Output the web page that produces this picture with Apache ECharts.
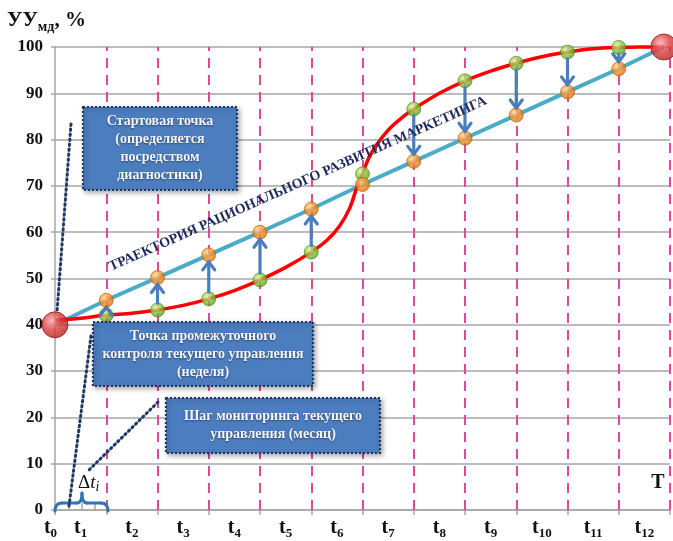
<!DOCTYPE html>
<html>
<head>
<meta charset="utf-8">
<script src="https://cdn.jsdelivr.net/npm/echarts@6.0.0/dist/echarts.min.js"></script>
<style>
  html, body { margin: 0; padding: 0; background: #ffffff; }
  #chart { width: 673px; height: 541px; }
</style>
</head>
<body>
<div id="chart"></div>
<script>
// ---- data ----------------------------------------------------------------
// period subscripts shown under the time axis (t0 ... t12)
const periodSubs = ['0', '1', '2', '3', '4', '5', '6', '7', '8', '9', '10', '11', '12'];

// monthly control points (index of period boundary)
const checkK = [1, 2, 3, 4, 5, 6, 7, 8, 9, 10, 11];
// rational trajectory values at control points (orange)
const planV = [45.3, 50.2, 55.1, 60.0, 65.0, 70.3, 75.3, 80.3, 85.3, 90.3, 95.3];
// actual development values at control points (green)
const factV = [42.1, 43.2, 45.6, 49.7, 55.7, 72.6, 86.6, 92.7, 96.5, 98.9, 99.9];

// start and end states
const startK = 0, startV = 40;
const endK = 11.88, endV = 100;

// S-shaped actual development curve
const curveK = [0, 0.5, 1, 1.5, 2, 2.5, 3, 3.5, 4, 4.5, 5, 5.3, 5.55, 5.75, 5.9, 6, 6.1, 6.2, 6.35, 6.55, 6.8, 7, 7.5, 8, 8.5, 9, 9.5, 10, 10.5, 11, 11.4, 11.88];
const curveV = [41, 41.4, 42.1, 42.5, 43.2, 44.2, 45.6, 47.4, 49.7, 52.4, 55.7, 58.2, 61.3, 65.2, 70.0, 72.6, 75.5, 77.6, 80.0, 82.6, 85.0, 86.6, 90.0, 92.7, 94.8, 96.5, 97.9, 98.9, 99.6, 99.9, 100, 100];

// correction arrows (period index where an arrow is drawn)
const arrowK = [1, 2, 3, 4, 5, 7, 8, 9, 10, 11];

// ---- styling helpers -----------------------------------------------------
const SERIF = '"Liberation Serif", "Times New Roman", serif';
const GRID_GRAY = '#a6a6a6';
const PINK = '#e0489e';
const NAVY = '#1f3864';

function ballGradient(light, mid, dark) {
  return {
    type: 'radial', x: 0.38, y: 0.35, r: 0.75,
    colorStops: [
      { offset: 0, color: light },
      { offset: 0.45, color: mid },
      { offset: 1, color: dark }
    ]
  };
}

const planLine = [[startK, startV]].concat(checkK.map((k, i) => [k, planV[i]]), [[endK, endV]]);
const factCurve = curveK.map((k, i) => [k, curveV[i]]);
const planPoints = checkK.map((k, i) => [k, planV[i]]);
const factPoints = checkK.map((k, i) => [k, factV[i]]);
const arrowData = arrowK.map(k => {
  const i = checkK.indexOf(k);
  return [k, factV[i], planV[i]];
});

function infoBox(x, y, w, h, text) {
  return {
    type: 'group',
    children: [
      {
        type: 'rect',
        z: 100,
        shape: { x: x, y: y, width: w, height: h },
        style: {
          fill: '#4c7dbf',
          stroke: NAVY,
          lineWidth: 2.2,
          lineDash: [2, 2],
          shadowBlur: 5,
          shadowOffsetX: 2,
          shadowOffsetY: 2,
          shadowColor: 'rgba(0,0,0,0.35)'
        }
      },
      {
        type: 'text',
        z: 101,
        x: x + w / 2,
        y: y + h / 2,
        style: {
          text: text,
          align: 'center',
          verticalAlign: 'middle',
          fill: '#f4f4f4',
          font: 'bold 14px ' + SERIF,
          lineHeight: 18,
          textShadowColor: 'rgba(0,0,0,0.45)',
          textShadowBlur: 2,
          textShadowOffsetY: 1
        }
      }
    ]
  };
}

function dotted(x1, y1, x2, y2) {
  return {
    type: 'line',
    z: 90,
    shape: { x1: x1, y1: y1, x2: x2, y2: y2 },
    style: { stroke: NAVY, lineWidth: 3, lineDash: [1.5, 3.5], lineCap: 'round' }
  };
}

// curly brace over the first period (weekly steps)
function brace() {
  const st = { stroke: '#2e75b6', lineWidth: 3, fill: null, lineCap: 'round' };
  const seg = (x1, y1, x2, y2, cx, cy) => ({
    type: 'bezierCurve', z: 50,
    shape: { x1: x1, y1: y1, x2: x2, y2: y2, cpx1: cx, cpy1: cy },
    style: st
  });
  return {
    type: 'group',
    children: [
      seg(55, 511, 62, 503, 55, 503),
      { type: 'line', z: 50, shape: { x1: 62, y1: 503, x2: 77, y2: 503 }, style: st },
      seg(77, 503, 82, 493, 82, 503),
      seg(82, 493, 87, 503, 82, 503),
      { type: 'line', z: 50, shape: { x1: 87, y1: 503, x2: 101, y2: 503 }, style: st },
      seg(101, 503, 108, 511, 108, 503)
    ]
  };
}

// ---- chart ---------------------------------------------------------------
const chart = echarts.init(document.getElementById('chart'), null, { renderer: 'canvas' });

const option = {
  animation: false,
  backgroundColor: '#ffffff',
  grid: { left: 55, right: 3, top: 47, bottom: 31, containLabel: false },
  xAxis: [
    {
      type: 'value', min: 0, max: 12, interval: 1,
      axisLine: { show: true, lineStyle: { color: GRID_GRAY, width: 1.5 } },
      axisTick: { show: true, length: 5, lineStyle: { color: GRID_GRAY, width: 1.5 } },
      axisLabel: { show: false },
      splitLine: { show: false }
    },
    {
      type: 'value', min: 0, max: 12, interval: 0.5, position: 'bottom',
      axisLine: { show: false }, axisTick: { show: false }, splitLine: { show: false },
      axisLabel: {
        margin: 6,
        formatter: function (v) {
          if (v === 0) return '{t|t}{s0|' + periodSubs[0] + '}';
          const f = v - Math.floor(v);
          if (Math.abs(f - 0.5) < 1e-6) {
            return '{t|t}{s|' + periodSubs[Math.round(v + 0.5)] + '}';
          }
          return '';
        },
        rich: {
          t: { fontFamily: SERIF, fontWeight: 'bold', fontSize: 20, color: '#111', lineHeight: 24 },
          s: { fontFamily: SERIF, fontWeight: 'bold', fontSize: 13, color: '#111', lineHeight: 13, verticalAlign: 'bottom' },
          s0: { fontFamily: SERIF, fontWeight: 'bold', fontSize: 13, color: '#111', lineHeight: 13, verticalAlign: 'bottom', padding: [0, 9, 0, 0] }
        }
      }
    }
  ],
  yAxis: {
    type: 'value', min: 0, max: 100, interval: 10,
    axisLine: { show: true, lineStyle: { color: GRID_GRAY, width: 1.5 } },
    axisTick: { show: true, length: 4, lineStyle: { color: GRID_GRAY, width: 1.5 } },
    axisLabel: { fontFamily: SERIF, fontWeight: 'bold', fontSize: 17, color: '#111', margin: 12 },
    splitLine: { show: true, lineStyle: { color: GRID_GRAY, width: 1.5 } }
  },
  series: [
    {
      // rational marketing development trajectory
      type: 'line',
      data: planLine,
      symbol: 'none',
      z: 2,
      clip: false,
      lineStyle: { color: '#4bacc6', width: 4 },
      markLine: {
        silent: true,
        symbol: 'none',
        label: { show: false },
        lineStyle: { color: PINK, width: 2, type: [10, 7] },
        data: checkK.concat([12]).map(k => ({ xAxis: k }))
      }
    },
    {
      // actual development curve
      type: 'line',
      data: factCurve,
      symbol: 'none',
      smooth: 0.35,
      z: 3,
      clip: false,
      lineStyle: { color: '#ff0000', width: 3.5 }
    },
    {
      // correction arrows from actual to rational values
      type: 'custom',
      z: 6,
      data: arrowData,
      renderItem: function (params, api) {
        const k = api.value(0);
        const p1 = api.coord([k, api.value(1)]);
        const p2 = api.coord([k, api.value(2)]);
        const dir = p2[1] < p1[1] ? -1 : 1;
        const r = 7;
        const y0 = p1[1] + dir * r;
        const yt = p2[1] - dir * r;
        const headLen = 8, headW = 6;
        const col = '#4a7ebb';
        return {
          type: 'group',
          children: [
            {
              type: 'line',
              shape: { x1: p1[0], y1: y0, x2: p1[0], y2: yt },
              style: { stroke: col, lineWidth: 3.2, lineCap: 'round' }
            },
            {
              type: 'polyline',
              shape: { points: [[p1[0] - headW, yt - dir * headLen], [p1[0], yt], [p1[0] + headW, yt - dir * headLen]] },
              style: { stroke: col, lineWidth: 3.2, fill: null, lineJoin: 'round', lineCap: 'round' }
            }
          ]
        };
      }
    },
    {
      type: 'scatter',
      data: factPoints,
      symbolSize: 14,
      z: 5,
      clip: false,
      itemStyle: { color: ballGradient('#dff5a8', '#8cc63f', '#4f8e1a'), borderColor: '#4a8418', borderWidth: 0.8 }
    },
    {
      type: 'scatter',
      data: planPoints,
      symbolSize: 14,
      z: 5,
      clip: false,
      itemStyle: { color: ballGradient('#ffd89a', '#f7962b', '#d0650a'), borderColor: '#b45a08', borderWidth: 0.8 }
    },
    {
      type: 'scatter',
      data: [[startK, startV], [endK, endV]],
      symbolSize: 26,
      z: 7,
      clip: false,
      itemStyle: { color: ballGradient('#f6a8a8', '#dc3c3c', '#a81c1c'), borderColor: '#8b1a1a', borderWidth: 1 }
    }
  ],
  graphic: [
    {
      type: 'text', x: 7, y: 8, z: 100,
      style: {
        text: '{a|УУ}{b|мд}{a|, %}',
        rich: {
          a: { fontFamily: SERIF, fontWeight: 'bold', fontSize: 21, fill: '#111', lineHeight: 26 },
          b: { fontFamily: SERIF, fontWeight: 'bold', fontSize: 14, fill: '#111', lineHeight: 14, verticalAlign: 'bottom' }
        }
      }
    },
    {
      type: 'text', x: 298, y: 184, rotation: 0.418, z: 95,
      style: {
        text: 'ТРАЕКТОРИЯ РАЦИОНАЛЬНОГО РАЗВИТИЯ МАРКЕТИНГА',
        align: 'center', verticalAlign: 'middle',
        font: 'bold 14px ' + SERIF,
        fill: '#1f2a5a'
      }
    },
    dotted(71, 124, 57, 312),
    dotted(91, 336, 69, 506),
    dotted(158, 402, 89, 470),
    infoBox(83, 107, 154, 83, 'Стартовая точка\n(определяется\nпосредством\nдиагностики)'),
    infoBox(93, 322, 220, 64, 'Точка промежуточного\nконтроля текущего управления\n(неделя)'),
    infoBox(166, 398, 214, 55, 'Шаг мониторинга текущего\nуправления (месяц)'),
    {
      // weekly sub-steps under the first period
      type: 'group',
      children: [69, 82, 95].map(x => ({
        type: 'line', z: 40, shape: { x1: x, y1: 503, x2: x, y2: 510 },
        style: { stroke: GRID_GRAY, lineWidth: 1.5 }
      }))
    },
    brace(),
    {
      type: 'text', x: 78, y: 472, z: 100,
      style: {
        text: '{d|Δ}{t|t}{i|i}',
        rich: {
          d: { fontFamily: SERIF, fontSize: 19, fill: '#111', lineHeight: 22 },
          t: { fontFamily: SERIF, fontStyle: 'italic', fontSize: 19, fill: '#111', lineHeight: 22 },
          i: { fontFamily: SERIF, fontStyle: 'italic', fontSize: 14, fill: '#111', lineHeight: 14, verticalAlign: 'bottom' }
        }
      }
    },
    {
      type: 'text', x: 658, y: 483, z: 100,
      style: { text: 'T', align: 'center', verticalAlign: 'middle', font: 'bold 20px ' + SERIF, fill: '#111' }
    }
  ]
};

chart.setOption(option);
</script>
</body>
</html>
